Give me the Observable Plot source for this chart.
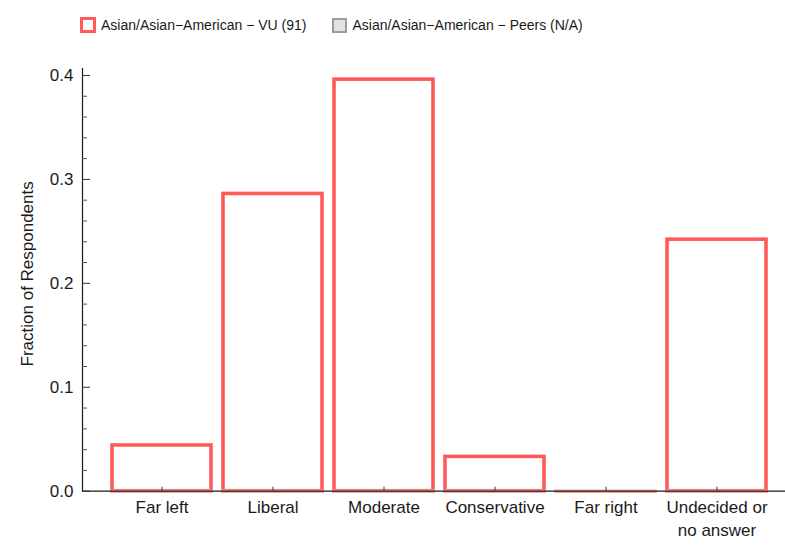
<!DOCTYPE html>
<html><head><meta charset="utf-8">
<script src="https://cdn.jsdelivr.net/npm/d3@7"></script>
<script src="https://cdn.jsdelivr.net/npm/@observablehq/plot@0.6"></script>
<style>
body{margin:0;background:#fff;font-family:"Liberation Sans",Arial,sans-serif;}
#legend{height:50px;width:785px;display:flex;align-items:center;padding-left:80px;box-sizing:border-box;font-size:14px;color:#1a1a1a;}
.sw{box-sizing:border-box;display:inline-block;}
#sw1{width:16px;height:16px;border:3px solid #ff5a5a;background:#fff;margin-right:5px;}
#sw2{width:15px;height:15px;border:2.5px solid #9c9c9c;background:#e2e2e2;margin-left:26px;margin-right:5px;}
#chart svg{display:block;}
</style></head>
<body>
<div id="legend"><span class="sw" id="sw1"></span><span id="l1"></span><span class="sw" id="sw2"></span><span id="l2"></span></div>
<div id="chart"></div>
<script>
const categories = ["Far left","Liberal","Moderate","Conservative","Far right","Undecided or no answer"];
const tickLabels = ["Far left","Liberal","Moderate","Conservative","Far right","Undecided or\nno answer"];
const vuValues = [0.044, 0.286, 0.396, 0.033, 0.0, 0.242];
const peersValues = []; // N/A
const seriesNames = ["Asian/Asian\u2212American \u2212 VU (91)", "Asian/Asian\u2212American \u2212 Peers (N/A)"];
const yMajorTicks = [0, 0.1, 0.2, 0.3, 0.4];
const yMinorTicks = [0.02,0.04,0.06,0.08,0.12,0.14,0.16,0.18,0.22,0.24,0.26,0.28,0.32,0.34,0.36,0.38];
const yLabel = "Fraction of Respondents";

document.getElementById("l1").textContent = seriesNames[0];
document.getElementById("l2").textContent = seriesNames[1];

const data = categories.map((c, i) => ({category: c, value: vuValues[i]}));
const red = "#ff5a5a";

const chart = Plot.plot({
  width: 785,
  height: 499,
  marginLeft: 82,
  marginRight: 0,
  marginTop: 18,
  marginBottom: 58.3,
  style: {fontFamily: '"Liberation Sans", Arial, sans-serif', fontSize: "17px", color: "#1a1a1a", background: "#fff"},
  x: {type: "band", domain: categories, paddingInner: 0.11, paddingOuter: 0.055, insetLeft: 22.2, insetRight: 11.2},
  y: {domain: [0, 0.4067]},
  marks: [
    Plot.barY(data, {x: "category", y: "value", fill: "#fff", stroke: red, strokeWidth: 3.6}),
    Plot.tickY(data, {x: "category", y: 0, stroke: "#f4a3a3", strokeWidth: 3.6, insetLeft: -1.8, insetRight: -1.8}),
    Plot.ruleY([0], {stroke: "#1a1a1a", strokeWidth: 1.2}),
    Plot.frame({anchor: "left", stroke: "#1a1a1a", strokeWidth: 1.2}),
    Plot.axisY({ticks: yMajorTicks, tickSize: 8, dx: 8, fill: "none", label: null, stroke: "#333"}),
    Plot.axisY({ticks: yMinorTicks, tickSize: 5, dx: 5, fill: "none", label: null, stroke: "#555"}),
    Plot.axisY({ticks: yMajorTicks, tickSize: 0, tickPadding: 9, tickFormat: d3.format(".1f"), label: null, fontSize: 17}),
    Plot.axisX({tickSize: 4, dy: -4, fill: "none", label: null, stroke: "#333"}),
    Plot.axisX({tickSize: 0, tickPadding: 5, tickFormat: d => tickLabels[categories.indexOf(d)], lineHeight: 1.37, label: null, fontSize: 17}),
    Plot.text([yLabel], {frameAnchor: "left", textAnchor: "middle", dx: -55, dy: -6, rotate: -90, fontSize: 17, fill: "#1a1a1a"})
  ]
});
document.getElementById("chart").appendChild(chart);
</script>
</body></html>
